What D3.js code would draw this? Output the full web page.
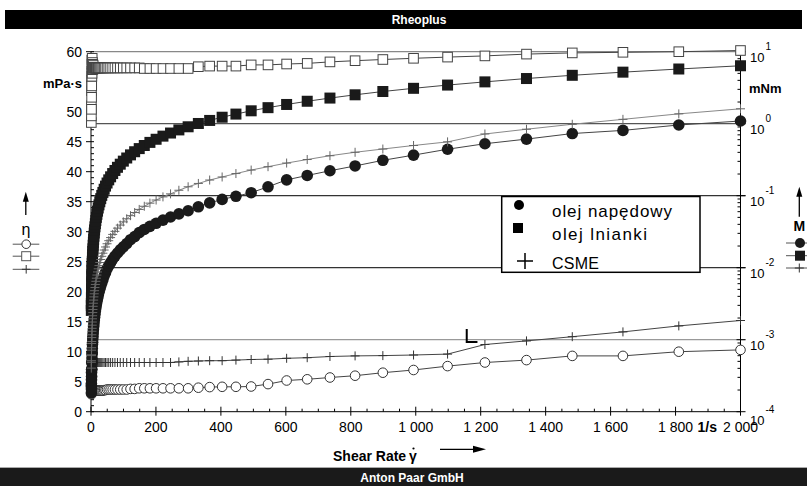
<!DOCTYPE html>
<html><head><meta charset="utf-8">
<script src="https://cdn.jsdelivr.net/npm/d3@7"></script>
<style>body{margin:0;background:#fff}svg{display:block;font-family:"Liberation Sans",Arial,sans-serif}</style>
</head><body><svg id="c" width="807" height="486"></svg>
<script>
// ---------- DATA ----------
const shearRate = [1.00,1.105,1.221,1.350,1.492,1.649,1.822,2.014,2.226,2.460,2.719,3.005,3.321,3.670,4.056,4.483,4.955,5.476,6.052,6.689,7.392,8.170,9.029,9.978,11.03,12.19,13.47,14.89,16.45,18.18,20.10,22.21,24.55,27.13,29.98,33.13,36.62,40.47,44.72,49.43,54.63,60.37,66.72,73.74,81.50,90.07,99.54,110.0,121.6,134.4,148.5,164.1,181.4,200.5,221.6,244.9,270.6,299.1,330.6,365.4,403.8,446.3,493.2,545.1,602.4,665.8,735.8,813.2,898.7,993.2,1098,1213,1341,1482,1638,1810,2000];

// viscosity, mPa·s (left axis, hollow markers)
const etaDiesel = [4.3,3.1,3.8,2.9,3.5,4.0,3.2,3.6,3.3,3.7,3.4,3.5,3.6,3.4,3.5,3.6,3.5,
 3.5,3.5,3.5,3.5,3.5,3.5,3.5,3.5,3.5,3.5,3.5,3.5,3.5,3.5,3.5,3.5,3.5,3.5,3.5,3.5,
 3.6,3.6,3.7,3.7,3.7,3.7,3.7,3.7,3.7,3.7,3.7,3.8,3.8,
 3.9,3.9,3.9,3.9,3.9,3.9,3.9,3.9,
 4.0,4.1,4.15,4.15,4.2,4.6,5.2,5.4,5.7,6.0,6.5,6.95,7.6,8.2,8.6,9.3,9.3,10.0,10.3];
const etaLinseed = [48.2,51.0,49.3,53.5,50.4,55.2,52.4,56.8,54.3,58.6,55.9,57.9,56.4,58.9,57.0,58.2,57.6,57.9,57.1,57.7,57.4,
 57.3,57.3,57.3,57.3,57.3,57.3,57.3,57.3,57.3,57.3,57.3,57.3,57.3,57.3,57.3,57.3,57.3,57.3,57.3,57.3,57.3,57.3,57.3,57.3,57.3,57.3,57.3,57.3,57.3,57.3,
 57.2,57.2,57.2,57.2,57.2,57.2,57.2,
 57.5,57.6,57.6,57.6,57.8,57.8,57.95,58.05,58.3,58.5,58.7,58.9,59.1,59.3,59.6,59.8,59.9,60.0,60.2];
const etaCSME = [7.6,8.3,7.9,8.4,7.8,8.2,8.0,8.3,8.0,8.2,8.1,
 8.2,8.2,8.2,8.2,8.2,8.2,8.2,8.2,8.2,8.2,8.2,8.2,8.2,8.2,8.2,8.2,8.2,8.2,8.2,8.2,8.2,8.2,8.2,8.2,8.2,8.2,8.2,8.2,8.2,8.2,8.2,8.2,8.2,8.2,8.2,8.2,8.2,8.2,8.2,8.2,8.2,8.2,8.2,8.2,8.2,
 8.3,8.4,8.45,8.5,8.5,8.6,8.7,8.75,8.9,9.0,9.2,9.3,9.35,9.45,9.6,11.2,11.8,12.5,13.3,14.3,15.2];

// torque, mNm (right log axis, filled markers)
const torqueDiesel = [2.28e-4,1.82e-4,2.46e-4,2.07e-4,2.77e-4,3.50e-4,3.09e-4,3.84e-4,3.89e-4,4.82e-4,4.90e-4,5.57e-4,6.34e-4,6.61e-4,7.52e-4,8.55e-4,9.19e-4,1.02e-3,1.12e-3,1.24e-3,1.37e-3,1.52e-3,1.67e-3,1.85e-3,2.04e-3,2.26e-3,2.50e-3,2.76e-3,3.05e-3,3.37e-3,3.73e-3,4.12e-3,4.55e-3,5.03e-3,5.56e-3,6.15e-3,6.80e-3,7.72e-3,8.53e-3,9.69e-3,1.07e-2,1.18e-2,1.31e-2,1.45e-2,1.60e-2,1.77e-2,1.95e-2,2.16e-2,2.45e-2,2.71e-2,3.07e-2,3.40e-2,3.75e-2,4.14e-2,4.58e-2,5.06e-2,5.60e-2,6.18e-2,7.01e-2,7.94e-2,8.88e-2,9.81e-2,0.110,0.133,0.166,0.191,0.222,0.259,0.310,0.366,0.442,0.527,0.611,0.730,0.807,0.960,1.09];
const torqueLinseed = [2.55e-3,2.99e-3,3.19e-3,3.83e-3,3.98e-3,4.82e-3,5.06e-3,6.07e-3,6.41e-3,7.64e-3,8.05e-3,9.22e-3,9.93e-3,1.15e-2,1.23e-2,1.38e-2,1.51e-2,1.68e-2,1.83e-2,2.05e-2,2.25e-2,2.48e-2,2.74e-2,3.03e-2,3.35e-2,3.70e-2,4.09e-2,4.52e-2,5.00e-2,5.52e-2,6.10e-2,6.75e-2,7.46e-2,8.24e-2,9.10e-2,0.101,0.111,0.123,0.136,0.150,0.166,0.183,0.203,0.224,0.248,0.274,0.302,0.334,0.369,0.408,0.451,0.498,0.550,0.608,0.672,0.742,0.820,0.906,1.007,1.11,1.23,1.36,1.51,1.67,1.85,2.05,2.27,2.52,2.80,3.10,3.44,3.81,4.24,4.70,5.20,5.75,6.38];
const torqueCSME = [4.03e-4,4.86e-4,5.11e-4,6.01e-4,6.17e-4,7.16e-4,7.73e-4,8.86e-4,9.44e-4,1.07e-3,1.17e-3,1.31e-3,1.44e-3,1.59e-3,1.76e-3,1.95e-3,2.15e-3,2.38e-3,2.63e-3,2.91e-3,3.21e-3,3.55e-3,3.93e-3,4.34e-3,4.79e-3,5.30e-3,5.85e-3,6.47e-3,7.15e-3,7.90e-3,8.73e-3,9.65e-3,1.07e-2,1.18e-2,1.30e-2,1.44e-2,1.59e-2,1.76e-2,1.94e-2,2.15e-2,2.37e-2,2.62e-2,2.90e-2,3.20e-2,3.54e-2,3.91e-2,4.33e-2,4.78e-2,5.28e-2,5.84e-2,6.45e-2,7.13e-2,7.88e-2,8.71e-2,9.63e-2,0.106,0.119,0.133,0.148,0.165,0.182,0.203,0.227,0.253,0.284,0.318,0.359,0.401,0.445,0.498,0.559,0.720,0.838,0.982,1.15,1.37,1.61];

const legendNames = ["olej napędowy","olej lnianki","CSME"];
const xTickValues = [0,200,400,600,800,1000,1200,1400,1600,1800,2000];
const xTickLabels = ["0","200","400","600","800","1 000","1 200","1 400","1 600","1 800","2 000"];
const leftTickValues = [0,5,10,15,20,25,30,35,40,45,50,60];
const rightDecades = [1e-4,1e-3,1e-2,1e-1,1,10];
const rightExponents = ["-4","-3","-2","-1","0","1"];
const segmentMark = {rate:1157, etaTop:13.8, etaBottom:11.6, rateEnd:1190};

// ---------- SCALES ----------
const svg = d3.select("#c");
const x = d3.scaleLinear([0,2000],[91,740.5]);
const yL = d3.scaleLinear([0,60],[411.7,51.7]);
const yR = d3.scaleLog([1e-4,10],[411.7,51.7]);

// header / footer
svg.append("rect").attr("x",5).attr("y",10).attr("width",797).attr("height",19).attr("fill","#000");
svg.append("text").attr("x",419).attr("y",24).attr("text-anchor","middle").attr("fill","#fff")
  .attr("font-size",12).attr("font-weight","bold").text("Rheoplus");
svg.append("rect").attr("x",0).attr("y",468).attr("width",807).attr("height",18).attr("fill","#1a1a1a");
svg.append("line").attr("x1",0).attr("x2",807).attr("y1",467.5).attr("y2",467.5).attr("stroke","#aaa");
svg.append("text").attr("x",412).attr("y",482).attr("text-anchor","middle").attr("fill","#fff")
  .attr("font-size",12).attr("font-weight","bold").text("Anton Paar GmbH");

// grid lines (right axis decades)
const gridCol = {10:"#888",1:"#555",0.1:"#333",0.01:"#333",0.001:"#999"};
[10,1,0.1,0.01,0.001].forEach(d=>{
  svg.append("line").attr("x1",x(0)).attr("x2",x(2000)+5).attr("y1",yR(d)).attr("y2",yR(d))
    .attr("stroke",gridCol[d]).attr("stroke-width",1.2);
});

// left axis
const gA = svg.append("g").attr("stroke","#000").attr("stroke-width",1);
gA.append("line").attr("x1",x(0)).attr("x2",x(0)).attr("y1",yL(0)).attr("y2",yL(60));
d3.range(0,61,1).forEach(v=>{ if(v%5) gA.append("line").attr("x1",x(0)).attr("x2",x(0)+3).attr("y1",yL(v)).attr("y2",yL(v)); });
leftTickValues.concat([55]).forEach(v=>gA.append("line").attr("x1",x(0)-5).attr("x2",x(0)+3).attr("y1",yL(v)).attr("y2",yL(v)));
leftTickValues.forEach(v=>svg.append("text").attr("x",82).attr("y",yL(v)+5.5).attr("text-anchor","end")
  .attr("font-size",14).text(v));
svg.append("text").attr("x",82).attr("y",88.3).attr("text-anchor","end").attr("font-size",13)
  .attr("font-weight","bold").text("mPa·s");

// bottom axis
gA.append("line").attr("x1",x(0)).attr("x2",x(2000)).attr("y1",yL(0)).attr("y2",yL(0));
d3.range(0,2001,50).forEach(v=>{ if(v%200) gA.append("line").attr("x1",x(v)).attr("x2",x(v)).attr("y1",yL(0)).attr("y2",yL(0)-3); });
xTickValues.forEach((v,i)=>{
  gA.append("line").attr("x1",x(v)).attr("x2",x(v)).attr("y1",yL(0)-5).attr("y2",yL(0)+4);
  svg.append("text").attr("x",x(v)).attr("y",431.7).attr("text-anchor","middle").attr("font-size",14).text(xTickLabels[i]);
});
svg.append("text").attr("x",717).attr("y",431.7).attr("text-anchor","end").attr("font-size",14)
  .attr("font-weight","bold").text("1/s");
svg.append("text").attr("x",333).attr("y",461).attr("font-size",14).attr("font-weight","bold").text("Shear Rate");
svg.append("text").attr("x",409).attr("y",461).attr("font-size",14).attr("font-weight","bold").text("γ");
svg.append("circle").attr("cx",413.5).attr("cy",448.5).attr("r",1.1).attr("fill","#000");
svg.append("line").attr("x1",440).attr("x2",475).attr("y1",449.3).attr("y2",449.3).attr("stroke","#000").attr("stroke-width",1.2);
svg.append("path").attr("d","M473,445.8L486,449.3L473,452.8Z").attr("fill","#000");

// right axis
gA.append("line").attr("x1",x(2000)).attr("x2",x(2000)).attr("y1",yR(1e-4)).attr("y2",yR(10));
rightDecades.forEach((d,i)=>{
  gA.append("line").attr("x1",x(2000)-4).attr("x2",x(2000)+5).attr("y1",yR(d)).attr("y2",yR(d));
  if(d<10) d3.range(2,10).forEach(m=>gA.append("line").attr("x1",x(2000)-3).attr("x2",x(2000))
      .attr("y1",yR(d*m)).attr("y2",yR(d*m)));
  const off = d===1e-4 ? 13 : 10;
  svg.append("text").attr("x",750).attr("y",yR(d)+off).attr("font-size",13).text("10");
  svg.append("text").attr("x",765.5).attr("y",yR(d)+off-12).attr("font-size",10).text(rightExponents[i]);
});
svg.append("text").attr("x",749).attr("y",93).attr("font-size",13).attr("font-weight","bold").text("mNm");

// ---------- SERIES ----------
const lineL = d3.line().x(d=>x(d[0])).y(d=>yL(d[1]));
const lineR = d3.line().x(d=>x(d[0])).y(d=>yR(d[1]));
const zipS = a => shearRate.map((g,i)=>[g,a[i]]).filter(d=>d[1]!=null);
const dDiesel = zipS(etaDiesel), dLinseed = zipS(etaLinseed), dCSME = zipS(etaCSME);
const mDiesel = zipS(torqueDiesel), mLinseed = zipS(torqueLinseed), mCSME = zipS(torqueCSME);

function path(data, gen, col, w){ svg.append("path").datum(data).attr("d",gen).attr("fill","none").attr("stroke",col).attr("stroke-width",w||1); }
path(dDiesel,lineL,"#444"); path(dLinseed,lineL,"#444"); path(dCSME,lineL,"#444");
path(mDiesel,lineR,"#444"); path(mLinseed,lineR,"#444"); path(mCSME,lineR,"#888");

const plusP = (cx,cy,h)=>`M${cx-h},${cy}H${cx+h}M${cx},${cy-h}V${cy+h}`;
// hollow markers
svg.append("g").selectAll("circle").data(dDiesel).join("circle")
  .attr("cx",d=>x(d[0])).attr("cy",d=>yL(d[1])).attr("r",4.8).attr("fill","#fff").attr("stroke","#333").attr("stroke-width",1);
svg.append("g").selectAll("rect").data(dLinseed).join("rect")
  .attr("x",d=>x(d[0])-4.8).attr("y",d=>yL(d[1])-4.8).attr("width",9.6).attr("height",9.6)
  .attr("fill","#fff").attr("stroke","#444").attr("stroke-width",1);
svg.append("g").selectAll("path").data(dCSME).join("path")
  .attr("d",d=>plusP(x(d[0]),yL(d[1]),4.5)).attr("stroke","#333").attr("stroke-width",1).attr("fill","none");
// filled markers
svg.append("g").selectAll("circle").data(mDiesel).join("circle")
  .attr("cx",d=>x(d[0])).attr("cy",d=>yR(d[1])).attr("r",5.8).attr("fill","#1a1a1a");
svg.append("g").selectAll("rect").data(mLinseed).join("rect")
  .attr("x",d=>x(d[0])-5.5).attr("y",d=>yR(d[1])-5.5).attr("width",11).attr("height",11).attr("fill","#1a1a1a");
svg.append("g").selectAll("path").data(mCSME).join("path")
  .attr("d",d=>plusP(x(d[0]),yR(d[1]),4.5)).attr("stroke","#666").attr("stroke-width",1).attr("fill","none");

// segment marker
svg.append("path").attr("d",`M${x(segmentMark.rate)},${yL(segmentMark.etaTop)}V${yL(segmentMark.etaBottom)}H${x(segmentMark.rateEnd)}`)
  .attr("fill","none").attr("stroke","#000").attr("stroke-width",2);

// ---------- LEGEND (in plot) ----------
svg.append("rect").attr("x",501.7).attr("y",196.5).attr("width",198.3).attr("height",75.8)
  .attr("fill","#fff").attr("stroke","#000").attr("stroke-width",1.5);
svg.append("circle").attr("cx",519).attr("cy",205).attr("r",5).attr("fill","#000");
svg.append("rect").attr("x",513).attr("y",223).attr("width",10).attr("height",10).attr("fill","#000");
svg.append("path").attr("d",plusP(525,261,8)).attr("stroke","#000").attr("stroke-width",1.5);
const lw=[120,95,47], ly=[217,240,269], ls=[17,17,16];
legendNames.forEach((n,i)=>svg.append("text").attr("x",552).attr("y",ly[i]).attr("font-size",ls[i])
  .attr("textLength",lw[i]).attr("lengthAdjust","spacing").text(n));

// ---------- MARGIN LEGENDS ----------
function arrowUp(cx,top,bot){
  svg.append("line").attr("x1",cx).attr("x2",cx).attr("y1",top+8).attr("y2",bot).attr("stroke","#000").attr("stroke-width",1.3);
  svg.append("path").attr("d",`M${cx-3},${top+10}L${cx},${top}L${cx+3},${top+10}Z`).attr("fill","#000");
}
arrowUp(25.8,191.7,215);
svg.append("text").attr("x",26).attr("y",234.5).attr("text-anchor","middle").attr("font-size",16).text("η");
[244.2,256.2,269.3].forEach(yy=>svg.append("line").attr("x1",12.7).attr("x2",39.3).attr("y1",yy).attr("y2",yy).attr("stroke","#555"));
svg.append("circle").attr("cx",26.2).attr("cy",244.2).attr("r",4.3).attr("fill","#fff").attr("stroke","#333");
svg.append("rect").attr("x",21.7).attr("y",251.7).attr("width",9).attr("height",9).attr("fill","#fff").attr("stroke","#555");
svg.append("path").attr("d",plusP(26.2,269.3,4.3)).attr("stroke","#333");

arrowUp(799.3,186.7,216.7);
svg.append("text").attr("x",799.3).attr("y",231).attr("text-anchor","middle").attr("font-size",14).attr("font-weight","bold").text("M");
[243,255.7,268].forEach(yy=>svg.append("line").attr("x1",786).attr("x2",807).attr("y1",yy).attr("y2",yy).attr("stroke","#555"));
svg.append("circle").attr("cx",800).attr("cy",243).attr("r",5).attr("fill","#1a1a1a");
svg.append("rect").attr("x",795).attr("y",250.7).attr("width",10).attr("height",10).attr("fill","#1a1a1a");
svg.append("path").attr("d",plusP(799.3,268,4.5)).attr("stroke","#333");
</script></body></html>
